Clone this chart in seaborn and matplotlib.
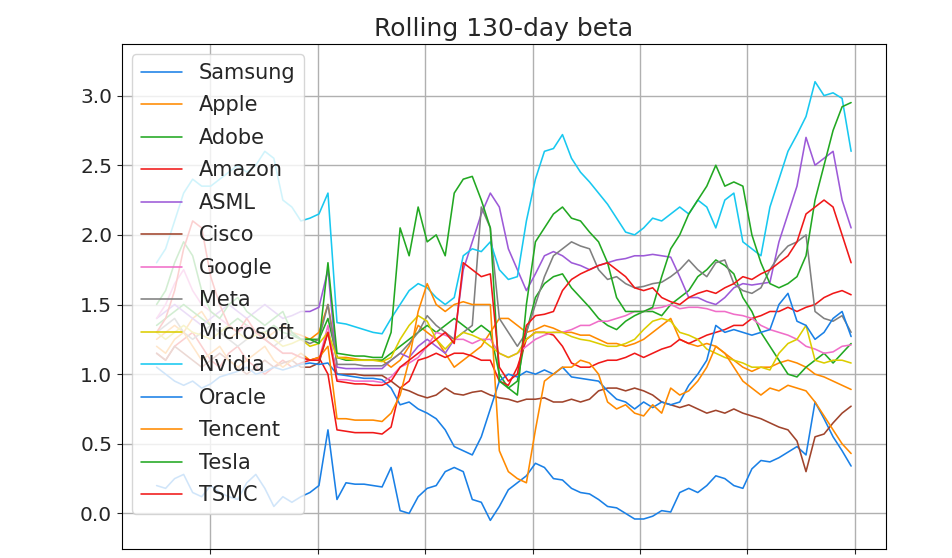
import matplotlib
matplotlib.use("Agg")
import matplotlib.pyplot as plt
import matplotlib.dates as mdates
import pandas as pd
import seaborn as sns

# roughly monthly samples
dates = pd.date_range("2018-07-02", "2024-12-20", periods=78)

samsung = [0.2, 0.18, 0.25, 0.28, 0.15, 0.12, 0.2, 0.15, 0.12, 0.1,
           0.22, 0.28, 0.18, 0.05, 0.12, 0.08, 0.12, 0.15, 0.2, 0.6,
           0.1, 0.22, 0.21, 0.21, 0.2, 0.19, 0.33, 0.02, 0.0, 0.12,
           0.18, 0.2, 0.3, 0.33, 0.3, 0.1, 0.08, -0.05, 0.05, 0.17,
           0.22, 0.27, 0.36, 0.33, 0.25, 0.24, 0.18, 0.15, 0.14, 0.1,
           0.05, 0.04, 0.0, -0.04, -0.04, -0.02, 0.02, 0.01, 0.15, 0.18,
           0.15, 0.2, 0.27, 0.25, 0.2, 0.18, 0.32, 0.38, 0.37, 0.4,
           0.44, 0.48, 0.42, 0.8, 0.68, 0.55, 0.45, 0.34]
apple = [1.25, 1.3, 1.35, 1.3, 1.4, 1.45, 1.35, 1.3, 1.25, 1.3,
         1.35, 1.3, 1.25, 1.3, 1.35, 1.3, 1.28, 1.25, 1.3, 1.5,
         1.12, 1.12, 1.11, 1.1, 1.1, 1.1, 1.05, 1.1, 1.2, 1.35,
         1.3, 1.25, 1.15, 1.05, 1.1, 1.15, 1.2, 1.3, 1.4, 1.4,
         1.35, 1.3, 1.32, 1.35, 1.33, 1.3, 1.3, 1.28, 1.28, 1.25,
         1.22, 1.22, 1.2, 1.22, 1.25, 1.3, 1.35, 1.4, 1.25, 1.22,
         1.2, 1.22, 1.2, 1.15, 1.1, 1.05, 1.02, 1.05, 1.05, 1.08,
         1.1, 1.08, 1.05, 1.0, 0.98, 0.95, 0.92, 0.89]
adobe = [1.35, 1.4, 1.45, 1.5, 1.45, 1.4, 1.35, 1.3, 1.35, 1.4,
         1.35, 1.3, 1.3, 1.35, 1.3, 1.28, 1.25, 1.25, 1.25, 1.4,
         1.12, 1.1, 1.1, 1.1, 1.1, 1.1, 1.15, 1.2, 1.25, 1.3,
         1.35, 1.3, 1.35, 1.4, 1.35, 1.3, 1.35, 1.3, 1.0, 0.9,
         0.95, 1.3, 1.55, 1.65, 1.7, 1.72, 1.62, 1.55, 1.48, 1.4,
         1.35, 1.32, 1.38, 1.42, 1.45, 1.45, 1.42, 1.5, 1.55, 1.6,
         1.7, 1.75, 1.82, 1.78, 1.72, 1.55, 1.45, 1.3, 1.2, 1.1,
         1.0, 0.98, 1.05, 1.1, 1.15, 1.08, 1.15, 1.22]
amazon = [1.15, 1.1, 1.2, 1.25, 1.3, 1.2, 1.1, 1.05, 1.15, 1.2,
          1.1, 1.05, 1.0, 1.05, 1.1, 1.05, 1.08, 1.1, 1.12, 1.0,
          0.6, 0.59, 0.58, 0.58, 0.58, 0.57, 0.62, 0.9, 0.95, 1.1,
          1.12, 1.15, 1.12, 1.15, 1.15, 1.13, 1.1, 1.1, 0.95, 0.92,
          1.05, 1.25, 1.3, 1.3, 1.28, 1.2, 1.08, 1.05, 1.05, 1.08,
          1.1, 1.1, 1.12, 1.15, 1.12, 1.15, 1.18, 1.2, 1.25, 1.22,
          1.25, 1.28, 1.3, 1.32, 1.35, 1.35, 1.4, 1.42, 1.45, 1.45,
          1.48, 1.45, 1.48, 1.5, 1.55, 1.58, 1.6, 1.57]
asml = [1.4, 1.45, 1.5, 1.45, 1.4, 1.35, 1.4, 1.45, 1.5, 1.45,
        1.4, 1.45, 1.5, 1.45, 1.4, 1.42, 1.45, 1.45, 1.48, 1.75,
        1.05, 1.04, 1.04, 1.04, 1.04, 1.04, 1.1, 1.15, 1.12, 1.2,
        1.25, 1.2, 1.15, 1.25, 1.75, 1.95, 2.15, 2.3, 2.2, 1.9,
        1.75, 1.6, 1.72, 1.85, 1.88, 1.85, 1.8, 1.78, 1.75, 1.78,
        1.8, 1.82, 1.83, 1.85, 1.85, 1.86, 1.85, 1.84, 1.7, 1.55,
        1.55, 1.52, 1.5, 1.55, 1.62, 1.65, 1.64, 1.65, 1.66, 1.95,
        2.15, 2.35, 2.7, 2.5, 2.55, 2.6, 2.25, 2.05]
cisco = [1.15, 1.1, 1.2, 1.15, 1.1, 1.05, 1.1, 1.15, 1.1, 1.05,
         1.0, 1.05, 1.1, 1.05, 1.08, 1.1, 1.05, 1.05, 1.08, 1.3,
         1.0, 1.0, 1.0, 0.99, 0.99, 0.99, 0.95, 0.9, 0.88, 0.85,
         0.83, 0.85, 0.9, 0.86, 0.85, 0.87, 0.88, 0.85, 0.83, 0.82,
         0.8, 0.82, 0.82, 0.83, 0.8, 0.8, 0.82, 0.8, 0.82, 0.88,
         0.9, 0.9, 0.88, 0.9, 0.88, 0.85, 0.8, 0.78, 0.76, 0.78,
         0.75, 0.72, 0.74, 0.72, 0.75, 0.72, 0.7, 0.68, 0.65, 0.62,
         0.6, 0.52, 0.3, 0.55, 0.57, 0.65, 0.72, 0.77]
google = [1.4, 1.5, 1.65, 1.75, 1.6, 1.5, 1.45, 1.4, 1.35, 1.3,
          1.35, 1.3, 1.25, 1.2, 1.15, 1.15, 1.12, 1.1, 1.1, 1.35,
          0.96, 0.96, 0.95, 0.95, 0.95, 0.94, 0.98, 1.05, 1.08, 1.12,
          1.2, 1.3, 1.28, 1.25, 1.25, 1.22, 1.25, 1.25, 1.15, 1.12,
          1.15, 1.2, 1.25, 1.28, 1.3, 1.3, 1.32, 1.35, 1.35, 1.38,
          1.38, 1.4, 1.42, 1.45, 1.45, 1.47, 1.48, 1.5, 1.47, 1.48,
          1.48, 1.47, 1.45, 1.45, 1.43, 1.42, 1.4, 1.35, 1.32, 1.3,
          1.28, 1.25, 1.2, 1.18, 1.15, 1.16, 1.2, 1.21]
meta = [1.3, 1.35, 1.4, 1.3, 1.25, 1.3, 1.35, 1.3, 1.25, 1.2,
        1.25, 1.3, 1.25, 1.2, 1.25, 1.3, 1.25, 1.22, 1.25, 1.5,
        1.07, 1.07, 1.07, 1.06, 1.06, 1.06, 1.1, 1.15, 1.22, 1.3,
        1.42, 1.35, 1.3, 1.25, 1.3, 1.35, 2.2, 2.05, 1.4, 1.3,
        1.2, 1.3, 1.5, 1.7, 1.85, 1.9, 1.95, 1.92, 1.9, 1.75,
        1.68, 1.7, 1.65, 1.62, 1.63, 1.65, 1.66, 1.7, 1.75, 1.82,
        1.75, 1.7, 1.8, 1.82, 1.65, 1.6, 1.58, 1.62, 1.75, 1.85,
        1.92, 1.95, 2.0, 1.45, 1.4, 1.38, 1.42, 1.3]
microsoft = [1.3, 1.25, 1.3, 1.35, 1.3, 1.28, 1.25, 1.3, 1.35, 1.3,
             1.25, 1.28, 1.3, 1.25, 1.2, 1.22, 1.25, 1.2, 1.22, 1.3,
             1.12, 1.11, 1.1, 1.1, 1.1, 1.09, 1.12, 1.25, 1.35, 1.42,
             1.38, 1.25, 1.18, 1.25, 1.3, 1.28, 1.25, 1.2, 1.15, 1.12,
             1.15, 1.25, 1.3, 1.3, 1.3, 1.3, 1.27, 1.25, 1.24, 1.22,
             1.2, 1.2, 1.22, 1.25, 1.32, 1.38, 1.4, 1.38, 1.3, 1.28,
             1.25, 1.18, 1.15, 1.12, 1.1, 1.08, 1.05, 1.05, 1.03, 1.15,
             1.22, 1.25, 1.35, 1.1, 1.08, 1.1, 1.1, 1.08]
nvidia = [1.8, 1.9, 2.1, 2.3, 2.4, 2.35, 2.35, 2.4, 2.45, 2.5,
          2.45, 2.5, 2.6, 2.55, 2.25, 2.2, 2.1, 2.12, 2.15, 2.3,
          1.37, 1.36, 1.34, 1.32, 1.3, 1.29, 1.4, 1.5, 1.6, 1.65,
          1.62, 1.55, 1.5, 1.55, 1.85, 1.9, 1.88, 1.95, 1.75, 1.68,
          1.7, 2.1, 2.4, 2.6, 2.62, 2.72, 2.55, 2.45, 2.38, 2.3,
          2.22, 2.12, 2.02, 2.0, 2.05, 2.12, 2.1, 2.15, 2.2, 2.15,
          2.25, 2.2, 2.05, 2.25, 2.3, 1.95, 1.9, 1.85, 2.2, 2.4,
          2.6, 2.72, 2.85, 3.1, 3.0, 3.02, 2.98, 2.6]
oracle = [1.05, 1.0, 0.95, 0.92, 0.95, 0.9, 0.93, 0.98, 1.0, 1.02,
          1.05, 1.0, 1.02, 1.05, 1.03, 1.05, 1.07, 1.08, 1.07, 1.08,
          1.0, 0.99, 0.98, 0.97, 0.97, 0.96, 0.9, 0.78, 0.8, 0.75,
          0.72, 0.68, 0.6, 0.48, 0.45, 0.42, 0.55, 0.75, 0.95, 1.0,
          0.98, 1.02, 1.0, 1.03, 1.0, 1.05, 0.98, 0.97, 0.96, 0.95,
          0.88, 0.82, 0.8, 0.75, 0.8, 0.76, 0.8, 0.78, 0.8, 0.92,
          1.0, 1.1, 1.35, 1.3, 1.32, 1.3, 1.28, 1.3, 1.32, 1.5,
          1.58, 1.38, 1.35, 1.25, 1.3, 1.4, 1.45, 1.27]
tencent = [1.2, 1.15, 1.25, 1.3, 1.2, 1.1, 1.15, 1.2, 1.1, 1.05,
           1.1, 1.15, 1.2, 1.1, 1.05, 1.1, 1.15, 1.1, 1.12, 1.2,
           0.68, 0.68, 0.67, 0.67, 0.67, 0.66, 0.72, 0.85, 1.1, 1.45,
           1.65, 1.5, 1.45, 1.5, 1.52, 1.5, 1.5, 1.5, 0.45, 0.3,
           0.25, 0.22, 0.6, 0.95, 1.0, 1.05, 1.05, 1.1, 1.08, 1.0,
           0.8, 0.75, 0.78, 0.72, 0.7, 0.78, 0.72, 0.9, 0.85, 0.88,
           0.95, 1.05, 1.2, 1.15, 1.05, 0.95, 0.9, 0.85, 0.9, 0.88,
           0.92, 0.9, 0.88, 0.8, 0.7, 0.6, 0.5, 0.43]
tesla = [1.5, 1.6, 1.8, 1.95, 1.85, 1.6, 1.45, 1.4, 1.5, 1.55,
         1.45, 1.4, 1.35, 1.4, 1.45, 1.3, 1.25, 1.25, 1.22, 1.8,
         1.15, 1.14, 1.13, 1.13, 1.12, 1.12, 1.3, 2.05, 1.85, 2.2,
         1.95, 2.0, 1.85, 2.3, 2.4, 2.42, 2.25, 2.05, 0.95, 0.9,
         0.85, 1.5, 1.95, 2.05, 2.15, 2.2, 2.12, 2.1, 2.02, 1.95,
         1.8, 1.55, 1.45, 1.45, 1.45, 1.48, 1.7, 1.9, 2.0, 2.15,
         2.25, 2.35, 2.5, 2.35, 2.38, 2.35, 2.0, 1.8, 1.65, 1.62,
         1.65, 1.7, 1.85, 2.25, 2.5, 2.75, 2.92, 2.95]
tsmc = [1.3, 1.4, 1.6, 1.9, 2.1, 2.05, 1.7, 1.5, 1.35, 1.3,
        1.4, 1.3, 1.25, 1.2, 1.15, 1.15, 1.12, 1.1, 1.1, 1.3,
        0.95, 0.94, 0.93, 0.93, 0.92, 0.92, 0.95, 1.05, 1.1, 1.15,
        1.2, 1.25, 1.3, 1.22, 1.8, 1.75, 1.7, 1.72, 1.05, 0.95,
        1.0, 1.35, 1.42, 1.43, 1.45, 1.6, 1.68, 1.72, 1.75, 1.78,
        1.8, 1.75, 1.7, 1.62, 1.6, 1.62, 1.55, 1.52, 1.5, 1.55,
        1.58, 1.6, 1.58, 1.62, 1.65, 1.7, 1.68, 1.72, 1.75, 1.8,
        1.85, 1.95, 2.15, 2.2, 2.25, 2.2, 2.0, 1.8]

names = ["Samsung", "Apple", "Adobe", "Amazon", "ASML", "Cisco", "Google",
         "Meta", "Microsoft", "Nvidia", "Oracle", "Tencent", "Tesla", "TSMC"]
series = [samsung, apple, adobe, amazon, asml, cisco, google,
          meta, microsoft, nvidia, oracle, tencent, tesla, tsmc]

# tab10 cycle, a bit more saturated like the reference
blue, orange, green, red = "#1a80e6", "#ff8a00", "#22a822", "#f01818"
colors = [blue, orange, green, red, "#9d5ad8", "#a0442c", "#f06ec8",
          "#808080", "#dccd00", "#18c8f0", blue, orange, green, red]

sns.set_style("ticks")
plt.rcParams["font.family"] = ["DejaVu Sans"]

fig = plt.figure(figsize=(9.52, 5.58), dpi=100)
ax = fig.add_axes([0.128, 0.016, 0.8025, 0.905])

for name, values, color in zip(names, series, colors):
    sns.lineplot(x=dates, y=values, label=name, color=color, linewidth=1.15, ax=ax)

ax.set_ylim(-0.256, 3.37)
ax.xaxis.set_major_locator(mdates.YearLocator())
# the year labels sit below the cropped bottom edge in the reference
ax.tick_params(axis="x", labelbottom=False)
ax.grid(True, color="#b0b0b0", linewidth=1.0)
ax.set_xlabel("")
ax.set_ylabel("")
ax.tick_params(axis="y", labelsize=14.5)
for s in ax.spines.values():
    s.set_color("black")
ax.set_title("Rolling 130-day beta", fontsize=18)
ax.legend(loc="upper left", fontsize=15, labelspacing=0.6)

fig.savefig("out.png", dpi=100)
